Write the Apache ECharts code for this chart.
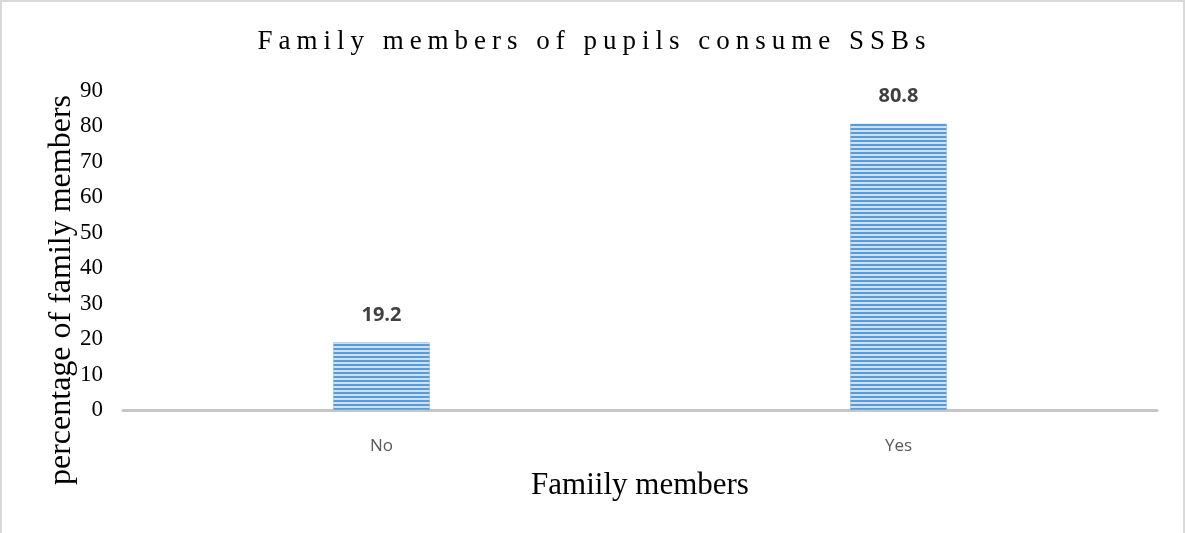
<!DOCTYPE html>
<html>
<head>
<meta charset="utf-8">
<title>Family members of pupils consume SSBs</title>
<script src="https://cdn.jsdelivr.net/npm/echarts@6/dist/echarts.min.js"></script>
<style>
  html, body { margin: 0; padding: 0; background: #ffffff; overflow: hidden; }
  #wrap { position: relative; width: 1185px; height: 533px; }
  #chart { position: absolute; left: 0; top: 0; width: 1185px; height: 533px; }
  #frame {
    position: absolute; left: 0; top: 0; width: 1185px; height: 560px;
    box-sizing: border-box; border: 2px solid #d9d9d9; pointer-events: none;
  }
  #title {
    position: absolute; left: 0; top: 27px; width: 1185px; text-align: center;
    font-family: "Liberation Serif", "DejaVu Serif", serif; font-size: 27px;
    line-height: 27px; letter-spacing: 6px; color: #000000; white-space: nowrap;
    text-indent: 4px;
  }
</style>
</head>
<body>
<div id="wrap">
  <div id="chart"></div>
  <div id="title">Family members of pupils consume SSBs</div>
  <div id="frame"></div>
</div>
<script>
// Categories and percentages
const categories = ['No', 'Yes'];
const percentages = [19.2, 80.8];
const yTicks = { min: 0, max: 90, interval: 10 };
const xAxisTitle = 'Famiily members';
const yAxisTitle = 'percentage of family members';

// Horizontal stripe fill for the bars
function stripePattern() {
  const c = document.createElement('canvas');
  c.width = 8;
  c.height = 4;
  const ctx = c.getContext('2d');
  ctx.fillStyle = '#cfe0f2';
  ctx.fillRect(0, 0, 8, 4);
  ctx.fillStyle = '#5b9bd5';
  ctx.fillRect(0, 0, 8, 2);
  return c;
}

const chart = echarts.init(document.getElementById('chart'), null, { renderer: 'canvas' });

const option = {
  animation: false,
  backgroundColor: 'transparent',
  grid: { left: 123, right: 28, top: 91, bottom: 123, containLabel: false },
  xAxis: {
    type: 'category',
    data: categories,
    name: xAxisTitle,
    nameLocation: 'middle',
    nameGap: 60,
    nameTextStyle: { fontFamily: 'Liberation Serif', fontSize: 31, color: '#000000' },
    axisLine: { show: true, lineStyle: { color: '#c6c6c6', width: 3 } },
    axisTick: { show: false },
    axisLabel: { margin: 28, fontFamily: 'Open Sans', fontSize: 17, color: '#595959' },
    splitLine: { show: false }
  },
  yAxis: {
    type: 'value',
    min: yTicks.min,
    max: yTicks.max,
    interval: yTicks.interval,
    axisLine: { show: false },
    axisTick: { show: false },
    splitLine: { show: false },
    axisLabel: { margin: 20, fontFamily: 'Liberation Serif', fontSize: 23, color: '#000000' }
  },
  graphic: [{
    type: 'text',
    x: 62,
    y: 290,
    rotation: Math.PI / 2,
    style: {
      text: yAxisTitle,
      fontFamily: 'Liberation Serif',
      fontSize: 32,
      fill: '#000000',
      align: 'center',
      verticalAlign: 'middle'
    }
  }],
  series: [{
    type: 'bar',
    data: percentages,
    barWidth: 97,
    itemStyle: {
      color: { image: stripePattern(), repeat: 'repeat' },
      borderColor: 'rgba(91,155,213,0.35)',
      borderWidth: 1
    },
    label: {
      show: true,
      position: 'top',
      distance: 17,
      fontFamily: 'Open Sans',
      fontWeight: 'bold',
      fontSize: 20,
      color: '#404040'
    }
  }]
};

chart.setOption(option);
</script>
</body>
</html>
